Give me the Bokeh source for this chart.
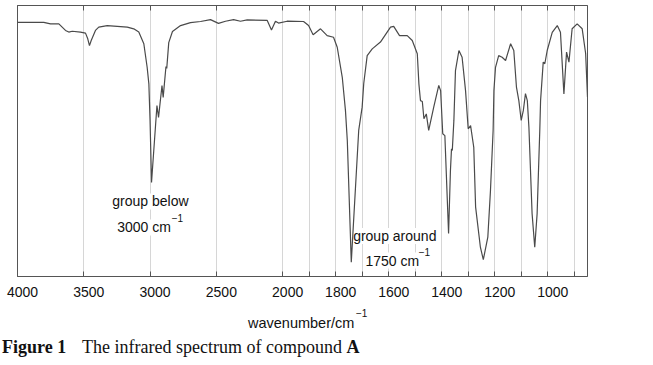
import numpy as np
from bokeh.plotting import figure
from bokeh.layouts import column
from bokeh.models import FixedTicker, LinearAxis, Label, ColumnDataSource, Div
from bokeh.embed import file_html
from bokeh.resources import INLINE

# ---- data ----
wavenumber = [4000, 3802, 3751, 3688, 3638, 3613, 3587, 3525, 3487, 3470, 3457, 3444,
              3412, 3387, 3323, 3172, 3123, 3085, 3047, 3022, 3009, 3000, 2989, 2948,
              2936, 2910, 2901, 2880, 2874, 2859, 2831, 2770, 2695, 2619, 2544, 2484,
              2431, 2370, 2318, 2267, 2116, 2084, 2054, 2031, 1983, 1921, 1902, 1885,
              1857, 1832, 1808, 1794, 1775, 1763, 1756, 1741, 1713, 1700, 1694, 1681,
              1662, 1631, 1593, 1581, 1559, 1530, 1511, 1492, 1486, 1480, 1473, 1467,
              1458, 1449, 1430, 1411, 1404, 1396, 1388, 1374, 1367, 1363, 1360, 1354,
              1348, 1335, 1323, 1310, 1300, 1291, 1279, 1272, 1254, 1243, 1226, 1216,
              1206, 1203, 1197, 1185, 1172, 1159, 1140, 1128, 1118, 1109, 1100, 1092,
              1084, 1077, 1071, 1059, 1049, 1040, 1030, 1027, 1017, 1011, 1002, 983,
              964, 952, 939, 929, 920, 908, 889, 870, 857, 850]
transmittance = [93.8, 93.8, 93.2, 93.2, 90.8, 90.2, 90.5, 90.2, 89.8, 87.7, 85.2, 87.1,
                 90.8, 92.0, 92.6, 92.0, 91.4, 90.2, 85.9, 77.2, 71.1, 57.6, 34.7, 63.1,
                 58.7, 70.5, 66.1, 77.5, 76.8, 86.3, 90.4, 92.6, 93.7, 94.1, 94.8, 93.4,
                 94.2, 94.8, 94.2, 94.7, 94.5, 91.0, 94.2, 93.5, 94.2, 94.1, 92.6, 89.2,
                 91.4, 88.9, 88.3, 84.6, 73.5, 61.3, 50.2, 5.3, 53.9, 62.5, 71.2, 81.5,
                 84.0, 86.5, 92.0, 92.3, 88.9, 88.9, 87.1, 82.2, 71.1, 64.9, 64.6, 58.2,
                 60.0, 53.9, 62.5, 70.5, 68.6, 52.7, 52.0, 15.9, 39.1, 47.1, 46.5, 57.6,
                 76.0, 83.4, 80.9, 68.6, 54.5, 55.7, 47.7, 25.6, 10.8, 6.2, 14.5, 31.7,
                 53.9, 68.6, 77.2, 81.5, 80.9, 79.7, 85.9, 83.4, 69.9, 64.9, 57.6, 61.3,
                 67.5, 64.9, 55.1, 23.2, 10.8, 23.2, 53.9, 64.9, 79.1, 78.5, 83.4, 90.1,
                 92.6, 90.1, 67.4, 82.8, 79.1, 91.4, 93.2, 91.4, 82.3, 66.2]

tick_wavenumbers = [4000, 3500, 3000, 2500, 2000, 1900, 1800, 1700, 1600, 1500,
                    1400, 1300, 1200, 1100, 1000, 900]
label_wavenumbers = [4000, 3500, 3000, 2500, 2000, 1800, 1600, 1400, 1200, 1000]
tick_labels = ["4000", "3500", "3000", "2500", "2000", "1800", "1600", "1400", "1200", "1000"]

W_MAX, W_MIN = 4000, 850


def to_axis(w):
    """Piecewise IR scale: the region below 2000 cm-1 is expanded 2x."""
    w = np.asarray(w, dtype=float)
    return np.where(w >= 2000, 4000 - w, 2000 + 2 * (2000 - w))


FRAME = "#555555"
TXT = "#111111"
SANS = "Liberation Sans"
SERIF = "Liberation Serif"

p = figure(width=653, height=306,
           x_range=(float(to_axis(W_MAX)), float(to_axis(W_MIN))), y_range=(0, 100),
           x_axis_location=None, y_axis_location=None,
           min_border_left=17, min_border_right=66, min_border_top=5, min_border_bottom=30,
           toolbar_location=None, output_backend="svg")
p.background_fill_color = "white"
p.border_fill_color = "white"
p.outline_line_color = FRAME
p.outline_line_width = 1

ticks = [float(v) for v in to_axis(tick_wavenumbers)]

# tick marks only (inside the frame)
bottom = LinearAxis(ticker=FixedTicker(ticks=ticks),
                    major_label_overrides={t: "" for t in ticks})
bottom.axis_line_color = FRAME
bottom.major_tick_line_color = FRAME
bottom.major_tick_in = 5
bottom.major_tick_out = 0
bottom.minor_tick_line_color = None
bottom.major_label_standoff = 0
bottom.major_label_text_font_size = "0px"
p.add_layout(bottom, "below")

# tick labels (set slightly right of their ticks, as in the original)
LABEL_SHIFT = 38  # axis units (about 5 px)
label_pos = [float(v) + LABEL_SHIFT for v in to_axis(label_wavenumbers)]
labels_axis = LinearAxis(ticker=FixedTicker(ticks=label_pos),
                         major_label_overrides={t: s for t, s in zip(label_pos, tick_labels)})
labels_axis.axis_line_color = None
labels_axis.major_tick_line_color = None
labels_axis.minor_tick_line_color = None
labels_axis.major_tick_in = 0
labels_axis.major_tick_out = 0
labels_axis.major_label_standoff = 10
labels_axis.major_label_text_font = SANS
labels_axis.major_label_text_font_size = "14px"
labels_axis.major_label_text_color = TXT
p.add_layout(labels_axis, "below")

top = LinearAxis(ticker=FixedTicker(ticks=ticks),
                 major_label_overrides={t: "" for t in ticks})
top.axis_line_color = FRAME
top.major_tick_line_color = FRAME
top.major_tick_in = 5
top.major_tick_out = 0
top.minor_tick_line_color = None
top.major_label_standoff = 0
top.major_label_text_font_size = "0px"
p.add_layout(top, "above")

p.xgrid.ticker = FixedTicker(ticks=ticks)
p.xgrid.grid_line_color = "#d6d6d6"
p.xgrid.grid_line_width = 1
p.ygrid.grid_line_color = None

src = ColumnDataSource(data=dict(x=to_axis(wavenumber), y=transmittance))
p.line("x", "y", source=src, line_color="#4a4a4a", line_width=1.2)


def add_label(fig, x, y, text, size="14px", font=SANS, style="normal", bg=None,
              align="left", level="annotation"):
    lab = Label(x=x, y=y, text=text, text_font=font, text_font_size=size,
                text_font_style=style, text_color=TXT, text_align=align,
                text_baseline="middle", level=level)
    if bg:
        lab.background_fill_color = bg
        lab.background_fill_alpha = 1.0
    fig.add_layout(lab)


# peak annotations (white boxes behind the text, under the spectrum line)
add_label(p, 1003, 27.7, "group below", bg="white", align="center", level="underlay")
add_label(p, 752, 18.1, "3000 cm", bg="white", level="underlay")
add_label(p, 1163, 21.6, "\u22121", size="10px", bg="white", level="underlay")
add_label(p, 2532, 14.9, "group around", bg="white", level="underlay")
add_label(p, 2625, 5.9, "1750 cm", bg="white", level="underlay")
add_label(p, 3027, 9.2, "\u22121", size="10px", bg="white", level="underlay")

# axis title and figure caption below the plot
html = (
    '<div style="position:relative;width:653px;height:59px;color:#111;">'
    '<span style="position:absolute;left:248px;top:9px;font:14.5px/16px \'Liberation Sans\';'
    'white-space:nowrap;">wavenumber/cm</span>'
    '<span style="position:absolute;left:356px;top:2px;font:10px/12px \'Liberation Sans\';'
    'white-space:nowrap;">\u22121</span>'
    '<span style="position:absolute;left:2px;top:31px;font:bold 18px/20px \'Liberation Serif\';'
    'white-space:nowrap;">Figure 1</span>'
    '<span style="position:absolute;left:82px;top:31px;font:18px/20px \'Liberation Serif\';'
    'white-space:nowrap;">The infrared spectrum of compound '
    '<b>A</b></span>'
    '</div>'
)
caption = Div(text=html, width=653, height=59, margin=0)

layout = column(p, caption, spacing=0)
open("out.html", "w").write(file_html(layout, INLINE))
